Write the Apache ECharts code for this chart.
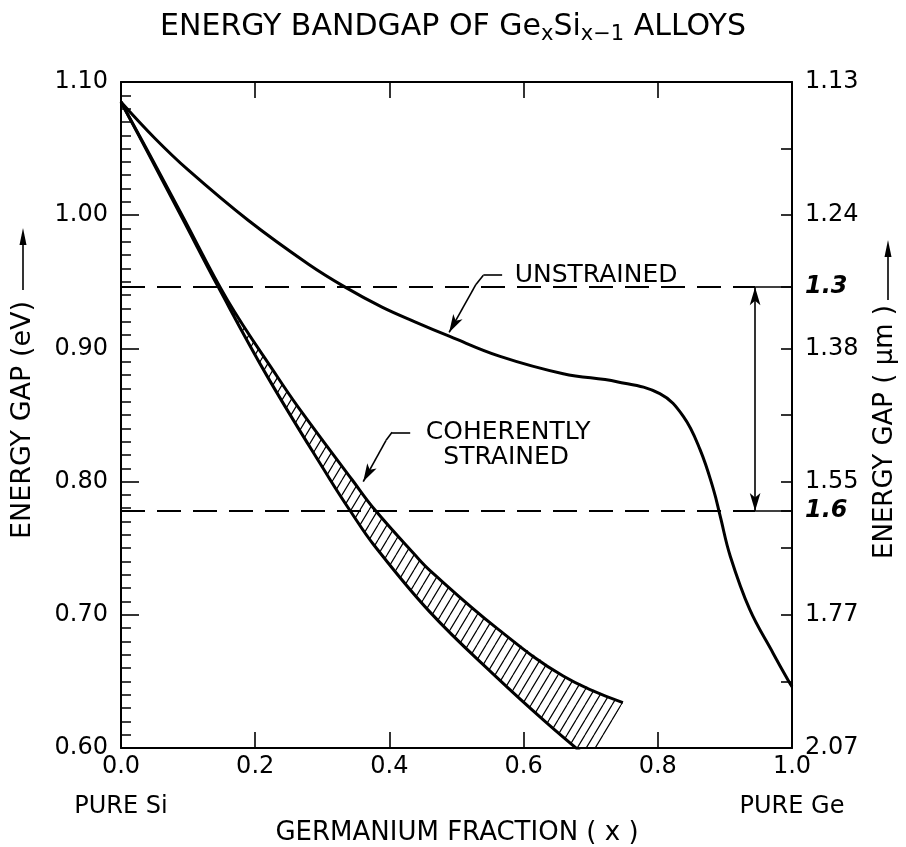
<!DOCTYPE html>
<html><head><meta charset="utf-8">
<script src="https://cdn.jsdelivr.net/npm/echarts@6/dist/echarts.min.js"></script>
<style>html,body{margin:0;padding:0;background:#fff}#c{width:906px;height:847px}</style>
</head><body><div id="c"></div>
<script>
// ---------------- data ----------------
const unstrainedX = [0, 0.05, 0.10, 0.19, 0.28, 0.334, 0.389, 0.438, 0.49, 0.565, 0.659, 0.739, 0.803, 0.838, 0.863, 0.883, 0.893, 0.908, 0.937, 0.972, 0.994, 1.0];
const unstrainedE = [1.085, 1.058, 1.034, 0.996, 0.963, 0.946, 0.931, 0.920, 0.909, 0.894, 0.881, 0.875, 0.866, 0.849, 0.824, 0.794, 0.774, 0.744, 0.704, 0.671, 0.651, 0.646];

const lowerX = [0, 0.04, 0.091, 0.145, 0.218, 0.311, 0.343, 0.376, 0.4605, 0.56, 0.634, 0.69];
const lowerE = [1.085, 1.047, 0.998, 0.946, 0.879, 0.802, 0.777, 0.753, 0.702, 0.653, 0.619, 0.595];

const upperX = [0, 0.04, 0.091, 0.159, 0.234, 0.264, 0.345, 0.378, 0.438, 0.461, 0.56, 0.659, 0.748];
const upperE = [1.085, 1.048, 1.000, 0.936, 0.878, 0.856, 0.801, 0.779, 0.745, 0.733, 0.690, 0.654, 0.634];

const hatchEndX = 0.712, hatchEndE = 0.600;   // where the last hatch line meets the x axis

const refE = [0.946, 0.778];        // 1.3 um and 1.6 um levels
const arrowX = 0.945;

const xEndLabels = ['PURE Si', 'PURE Ge'];

const rightTickE = [1.05, 1.00, 0.946, 0.90, 0.85, 0.80, 0.778, 0.75, 0.70, 0.65];
const rightLabelE = [1.10, 1.00, 0.946, 0.90, 0.80, 0.778, 0.70, 0.60];
const rightLabelText = ['1.13', '1.24', '1.3', '1.38', '1.55', '1.6', '1.77', '2.07'];
const rightHandwritten = ['1.3', '1.6'];

const annotText = ['UNSTRAINED', 'COHERENTLY', 'STRAINED'];

// ---------------- helpers ----------------
const FONT = 'DejaVu Sans';
function makeHatch() {
  const w = 9, h = 15;
  const c = document.createElement('canvas'); c.width = w; c.height = h;
  const g = c.getContext('2d');
  g.strokeStyle = '#000'; g.lineWidth = 1.2;
  g.beginPath();
  [-w, 0, w].forEach(dx => { g.moveTo(dx, h); g.lineTo(dx + w, 0); });
  g.stroke();
  return c;
}
const hatchCanvas = makeHatch();
const pairs = (xs, ys) => xs.map((x, i) => [x, ys[i]]);

const chart = echarts.init(document.getElementById('c'), null, {renderer: 'canvas'});

const axisLine = {show: true, onZero: false, lineStyle: {color: '#000', width: 2}};
const tickStyle = {color: '#000', width: 1.6};

const seg = (a, b, style, endSym) => [
  {coord: a, symbol: 'none', lineStyle: style},
  {coord: b, symbol: endSym || 'none'}
];
const solid = {type: 'solid', color: '#000', width: 1.6};
const dashed = {type: [24, 12], color: '#000', width: 2};

const markLines = [
  seg([0, refE[0]], [arrowX, refE[0]], dashed),
  seg([arrowX, refE[0]], [1, refE[0]], solid),
  seg([0, refE[1]], [arrowX, refE[1]], dashed),
  seg([arrowX, refE[1]], [1, refE[1]], solid),
  [{coord: [arrowX, refE[0]], symbol: 'arrow', lineStyle: solid}, {coord: [arrowX, refE[1]], symbol: 'arrow'}],
  // leader for UNSTRAINED
  seg([0.568, 0.955], [0.540, 0.955], solid),
  seg([0.540, 0.955], [0.529, 0.948], solid),
  seg([0.529, 0.948], [0.489, 0.912], solid, 'arrow'),
  // leader for COHERENTLY STRAINED
  seg([0.431, 0.837], [0.404, 0.837], solid),
  seg([0.404, 0.837], [0.395, 0.831], solid),
  seg([0.395, 0.831], [0.361, 0.800], solid, 'arrow')
];

const option = {
  animation: false,
  backgroundColor: '#fff',
  textStyle: {fontFamily: FONT, color: '#000'},
  title: {
    text: '{n|ENERGY BANDGAP OF Ge}{s|x}{n|Si}{s|x\u22121}{n| ALLOYS}',
    left: 'center', top: 9, padding: 0,
    textStyle: {
      fontWeight: 'normal',
      rich: {
        n: {fontSize: 30, lineHeight: 36, fontWeight: 'normal', fontFamily: FONT, color: '#000'},
        s: {fontSize: 21, lineHeight: 24, fontWeight: 'normal', verticalAlign: 'bottom', fontFamily: FONT, color: '#000'}
      }
    }
  },
  grid: {left: 121, right: 114, top: 82, bottom: 99, containLabel: false, outerBoundsMode: 'none'},
  xAxis: [
    {
      type: 'value', min: 0, max: 1, interval: 0.2, position: 'bottom',
      axisLine: axisLine,
      axisTick: {show: true, inside: true, length: 16, lineStyle: tickStyle},
      splitLine: {show: false},
      axisLabel: {
        margin: 3, color: '#000',
        formatter: v => {
          const s = v.toFixed(1);
          if (Math.abs(v) < 1e-9) return '{a|' + s + '}\n{b|' + xEndLabels[0] + '}';
          if (Math.abs(v - 1) < 1e-9) return '{a|' + s + '}\n{b|' + xEndLabels[1] + '}';
          return '{a|' + s + '}';
        },
        rich: {
          a: {fontSize: 24, lineHeight: 32, fontFamily: FONT, color: '#000'},
          b: {fontSize: 24, lineHeight: 48, fontFamily: FONT, color: '#000'}
        }
      }
    },
    {
      type: 'value', min: 0, max: 1, interval: 0.2, position: 'top',
      axisLine: axisLine,
      axisTick: {show: true, inside: true, length: 16, lineStyle: tickStyle},
      axisLabel: {show: false}, splitLine: {show: false}
    }
  ],
  yAxis: [
    {
      type: 'value', min: 0.6, max: 1.1, interval: 0.1, position: 'left',
      axisLine: axisLine,
      axisTick: {show: true, inside: true, length: 18, lineStyle: tickStyle},
      minorTick: {show: true, splitNumber: 10, length: 10, lineStyle: {color: '#000', width: 1.5}},
      splitLine: {show: false}, minorSplitLine: {show: false},
      axisLabel: {margin: 13, fontSize: 24, color: '#000', fontFamily: FONT, formatter: v => v.toFixed(2)}
    },
    {
      type: 'value', min: 0.6, max: 1.1, interval: 0.05, position: 'right',
      axisLine: axisLine,
      axisTick: {show: true, inside: true, length: 11, lineStyle: tickStyle, customValues: rightTickE},
      splitLine: {show: false},
      axisLabel: {
        margin: 13, fontSize: 24, color: '#000', fontFamily: FONT,
        customValues: rightLabelE,
        formatter: v => {
          const i = rightLabelE.findIndex(e => Math.abs(e - v) < 1e-6);
          if (i < 0) return '';
          const t = rightLabelText[i];
          return rightHandwritten.indexOf(t) >= 0 ? '{h|' + t + '}' : t;
        },
        rich: {h: {fontSize: 24, fontWeight: 'bold', fontStyle: 'italic', fontFamily: FONT, color: '#000'}}
      }
    }
  ],
  series: [
    {
      type: 'custom', coordinateSystem: 'cartesian2d', xAxisIndex: 0, yAxisIndex: 0,
      clip: true, silent: true, z: 1,
      data: [[0.5, 0.8]],
      renderItem: function (params, api) {
        const pts = [];
        for (let i = 0; i < lowerX.length; i++) pts.push(api.coord([lowerX[i], lowerE[i]]));
        pts.push(api.coord([hatchEndX, hatchEndE]));
        for (let i = upperX.length - 1; i >= 0; i--) pts.push(api.coord([upperX[i], upperE[i]]));
        return {type: 'polygon', shape: {points: pts},
          style: {fill: {type: 'pattern', image: hatchCanvas, repeat: 'repeat'}, stroke: null}};
      }
    },
    {
      name: 'unstrained', type: 'line', data: pairs(unstrainedX, unstrainedE),
      smooth: 0.4, symbol: 'none', z: 3, silent: true,
      lineStyle: {color: '#000', width: 3},
      markLine: {
        silent: true, animation: false, symbolSize: [8, 18],
        label: {show: false}, emphasis: {disabled: true},
        lineStyle: solid,
        data: markLines
      }
    },
    {
      name: 'strained-lower', type: 'line', data: pairs(lowerX, lowerE),
      smooth: 0.4, symbol: 'none', z: 3, silent: true,
      lineStyle: {color: '#000', width: 3}
    },
    {
      name: 'strained-upper', type: 'line', data: pairs(upperX, upperE),
      smooth: 0.4, symbol: 'none', z: 3, silent: true,
      lineStyle: {color: '#000', width: 3}
    }
  ]
};
chart.setOption(option);

// annotations placed in data coordinates
const annotPos = [[0.708, 0.955], [0.577, 0.837], [0.574, 0.818]];
const px = (x, e) => chart.convertToPixel({gridIndex: 0}, [x, e]);
const g = [];
annotText.forEach((t, i) => {
  const p = px(annotPos[i][0], annotPos[i][1]);
  g.push({type: 'text', x: p[0], y: p[1], z: 10,
    style: {text: t, fontSize: 25, fontFamily: FONT, fill: '#000', align: 'center', verticalAlign: 'middle'}});
});
// axis names
g.push({type: 'text', x: 23, y: 420, rotation: Math.PI / 2,
  style: {text: 'ENERGY GAP (eV)', fontSize: 27, fontFamily: FONT, fill: '#000', align: 'center', verticalAlign: 'middle'}});
g.push({type: 'line', shape: {x1: 23, y1: 290, x2: 23, y2: 240}, style: {stroke: '#000', lineWidth: 1.6}});
g.push({type: 'polygon', shape: {points: [[23, 228], [19.5, 245], [26.5, 245]]}, style: {fill: '#000'}});

g.push({type: 'text', x: 885, y: 432, rotation: Math.PI / 2,
  style: {text: 'ENERGY GAP ( \u03bcm )', fontSize: 26, fontFamily: FONT, fill: '#000', align: 'center', verticalAlign: 'middle'}});
g.push({type: 'line', shape: {x1: 888, y1: 300, x2: 888, y2: 252}, style: {stroke: '#000', lineWidth: 1.6}});
g.push({type: 'polygon', shape: {points: [[888, 240], [884.5, 257], [891.5, 257]]}, style: {fill: '#000'}});

g.push({type: 'text', x: 457, y: 833,
  style: {text: 'GERMANIUM FRACTION ( x )', fontSize: 26, fontFamily: FONT, fill: '#000', align: 'center', verticalAlign: 'middle'}});

chart.setOption({graphic: g});
</script>
</body></html>
